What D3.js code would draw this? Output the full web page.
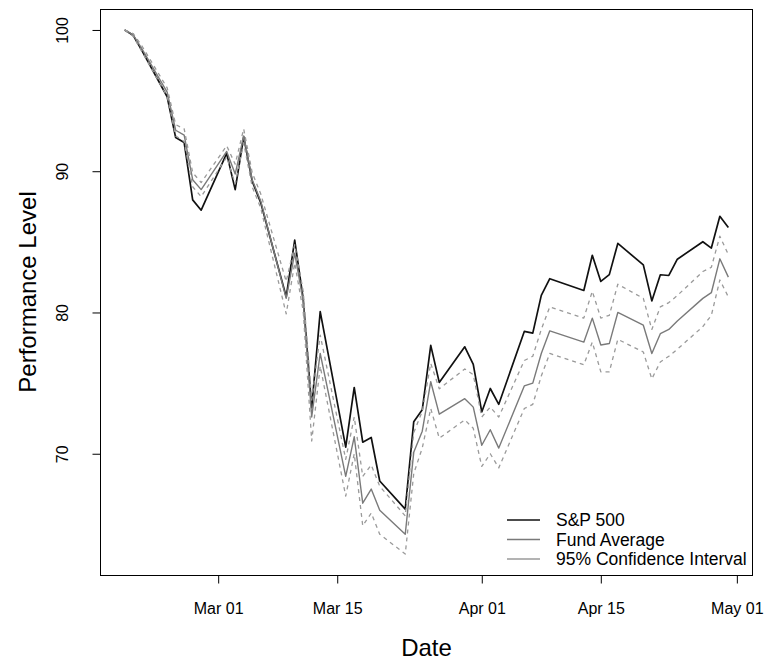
<!DOCTYPE html>
<html>
<head>
<meta charset="utf-8">
<script src="https://cdn.jsdelivr.net/npm/d3@7"></script>
<style>
body { margin: 0; background: #fff; }
#graph text { font-family: "Liberation Sans", Arial, sans-serif; fill: #000; }
</style>
</head>
<body>
<div id="graph"></div>
<script>
var graph_width = 765;
var graph_height = 661;
var margin = { left: 100.5, right: 12.5, top: 9, bottom: 86 };

// trading days, Feb 19 - Apr 30 2020
var dates = ['2020-02-19','2020-02-20','2020-02-21','2020-02-24','2020-02-25','2020-02-26','2020-02-27','2020-02-28',
	'2020-03-02','2020-03-03','2020-03-04','2020-03-05','2020-03-06','2020-03-09','2020-03-10','2020-03-11','2020-03-12','2020-03-13',
	'2020-03-16','2020-03-17','2020-03-18','2020-03-19','2020-03-20','2020-03-23','2020-03-24','2020-03-25','2020-03-26','2020-03-27',
	'2020-03-30','2020-03-31','2020-04-01','2020-04-02','2020-04-03','2020-04-06','2020-04-07','2020-04-08','2020-04-09',
	'2020-04-13','2020-04-14','2020-04-15','2020-04-16','2020-04-17','2020-04-20','2020-04-21','2020-04-22','2020-04-23','2020-04-24',
	'2020-04-27','2020-04-28','2020-04-29','2020-04-30'];

var sp500 = [100.00, 99.62, 98.57, 95.27, 92.38, 92.03, 87.97, 87.24,
	91.26, 88.70, 92.44, 89.30, 87.78, 81.11, 85.12, 80.96, 73.26, 80.06,
	70.47, 74.69, 70.82, 71.15, 68.07, 66.08, 72.27, 73.11, 77.67, 75.05,
	77.57, 76.33, 72.96, 74.62, 73.50, 78.66, 78.54, 81.21, 82.39,
	81.56, 84.05, 82.20, 82.68, 84.89, 83.37, 80.82, 82.67, 82.62, 83.77,
	85.01, 84.56, 86.81, 86.01];

var fundAvg = [100.00, 99.65, 98.70, 95.60, 92.90, 92.55, 89.40, 88.70,
	91.40, 89.80, 92.50, 89.40, 87.90, 81.00, 84.20, 80.80, 72.60, 77.10,
	68.40, 71.20, 66.50, 67.50, 66.00, 64.30, 70.10, 71.60, 75.10, 72.80,
	73.90, 73.30, 70.60, 71.70, 70.40, 74.80, 75.00, 77.10, 78.70,
	77.90, 79.60, 77.70, 77.80, 80.00, 79.10, 77.10, 78.50, 78.80, 79.40,
	81.00, 81.40, 83.80, 82.50];

var ciUpper = [100.00, 99.75, 98.90, 95.90, 93.30, 93.00, 89.90, 89.20,
	91.80, 90.50, 93.00, 89.90, 88.40, 82.20, 84.80, 81.50, 73.80, 78.40,
	69.60, 72.60, 68.40, 69.20, 67.70, 65.60, 71.50, 73.00, 76.40, 74.60,
	76.00, 75.60, 72.60, 73.30, 72.60, 76.60, 76.90, 78.80, 80.40,
	79.60, 81.50, 79.60, 79.80, 82.00, 81.00, 78.80, 80.40, 80.70, 81.20,
	82.90, 83.20, 85.40, 84.10];

var ciLower = [100.00, 99.55, 98.50, 95.30, 92.50, 92.10, 88.90, 88.20,
	91.00, 89.10, 92.00, 88.90, 87.40, 79.90, 83.50, 80.10, 70.90, 76.20,
	67.00, 70.00, 64.90, 65.80, 64.30, 62.90, 68.60, 70.40, 73.20, 71.10,
	72.40, 71.80, 69.10, 70.00, 69.00, 73.20, 73.50, 75.50, 77.10,
	76.30, 77.90, 75.80, 75.80, 78.10, 77.20, 75.30, 76.50, 76.90, 77.40,
	79.00, 79.80, 82.30, 81.10];

var xTicks = ['2020-03-01','2020-03-15','2020-04-01','2020-04-15','2020-05-01'];
var xTickLabels = ['Mar 01','Mar 15','Apr 01','Apr 15','May 01'];
var yTicks = [70, 80, 90, 100];

var legendLabels = ['S&P 500', 'Fund Average', '95% Confidence Interval'];

var parseDate = d3.timeParse('%Y-%m-%d');
var days = dates.map(parseDate);

// R style 4% padding on both axes
function padded(lo, hi)
{
	var p = (hi - lo) * 0.04;
	return [lo - p, hi + p];
}

var tMin = d3.min(days).getTime(), tMax = d3.max(days).getTime();
var xDom = padded(tMin, tMax);
var yDom = padded(d3.min(ciLower.concat(sp500, fundAvg)), d3.max(ciUpper.concat(sp500, fundAvg)));

var x = d3.scaleTime()
	.domain([new Date(xDom[0]), new Date(xDom[1])])
	.range([margin.left, graph_width - margin.right]);
var y = d3.scaleLinear()
	.domain(yDom)
	.range([graph_height - margin.bottom, margin.top]);

var graph = d3.select('#graph')
	.append('svg')
	.attr('width', graph_width)
	.attr('height', graph_height);

function drawLine(values, color, width, dash)
{
	var line = d3.line()
		.x(function(d, i) { return x(days[i]); })
		.y(function(d) { return y(d); });
	graph.append('path')
		.datum(values)
		.attr('d', line)
		.attr('fill', 'none')
		.attr('stroke', color)
		.attr('stroke-width', width)
		.attr('stroke-linejoin', 'round')
		.attr('stroke-dasharray', dash || null);
}

drawLine(sp500, '#111', 1.7);
drawLine(fundAvg, '#7a7a7a', 1.4);
drawLine(ciUpper, '#9a9a9a', 1.3, '4,4');
drawLine(ciLower, '#9a9a9a', 1.3, '4,4');

// box
graph.append('rect')
	.attr('x', margin.left)
	.attr('y', margin.top + 0.5)
	.attr('width', graph_width - margin.left - margin.right)
	.attr('height', graph_height - margin.top - margin.bottom)
	.attr('fill', 'none')
	.attr('stroke', '#000')
	.attr('stroke-width', 1);

// x axis
var xAxis = graph.append('g')
	.attr('transform', 'translate(0,' + (graph_height - margin.bottom + 0.5) + ')')
	.call(d3.axisBottom(x)
		.tickValues(xTicks.map(parseDate))
		.tickFormat(function(d, i) { return xTickLabels[i]; })
		.tickSize(8)
		.tickSizeOuter(0));
xAxis.select('.domain').remove();
xAxis.selectAll('text')
	.attr('y', 38)
	.attr('dy', 0)
	.style('font-size', '16px');

// y axis, labels turned like R's default
var yAxis = graph.append('g')
	.attr('transform', 'translate(' + margin.left + ',0)')
	.call(d3.axisLeft(y)
		.tickValues(yTicks)
		.tickSize(8)
		.tickSizeOuter(0));
yAxis.select('.domain').remove();
yAxis.selectAll('text')
	.attr('transform', 'rotate(-90)')
	.attr('x', 0)
	.attr('y', -33)
	.attr('dy', 0)
	.style('text-anchor', 'middle')
	.style('font-size', '16px');

graph.append('text')
	.attr('x', (margin.left + graph_width - margin.right) / 2)
	.attr('y', 656)
	.attr('text-anchor', 'middle')
	.style('font-size', '24px')
	.text('Date');

graph.append('text')
	.attr('transform', 'translate(36,' + ((margin.top + graph_height - margin.bottom) / 2) + ') rotate(-90)')
	.attr('text-anchor', 'middle')
	.style('font-size', '24px')
	.text('Performance Level');

// legend, no frame
var legendColors = ['#111', '#7a7a7a', '#9a9a9a'];
var legendWidths = [1.7, 1.4, 1.4];
for (var i = 0; i < legendLabels.length; i++)
{
	var ly = 520 + i * 19.5;
	graph.append('line')
		.attr('x1', 507)
		.attr('x2', 540)
		.attr('y1', ly)
		.attr('y2', ly)
		.attr('stroke', legendColors[i])
		.attr('stroke-width', legendWidths[i]);
	graph.append('text')
		.attr('x', 556)
		.attr('y', ly + 6)
		.style('font-size', '17.5px')
		.text(legendLabels[i]);
}
</script>
</body>
</html>
